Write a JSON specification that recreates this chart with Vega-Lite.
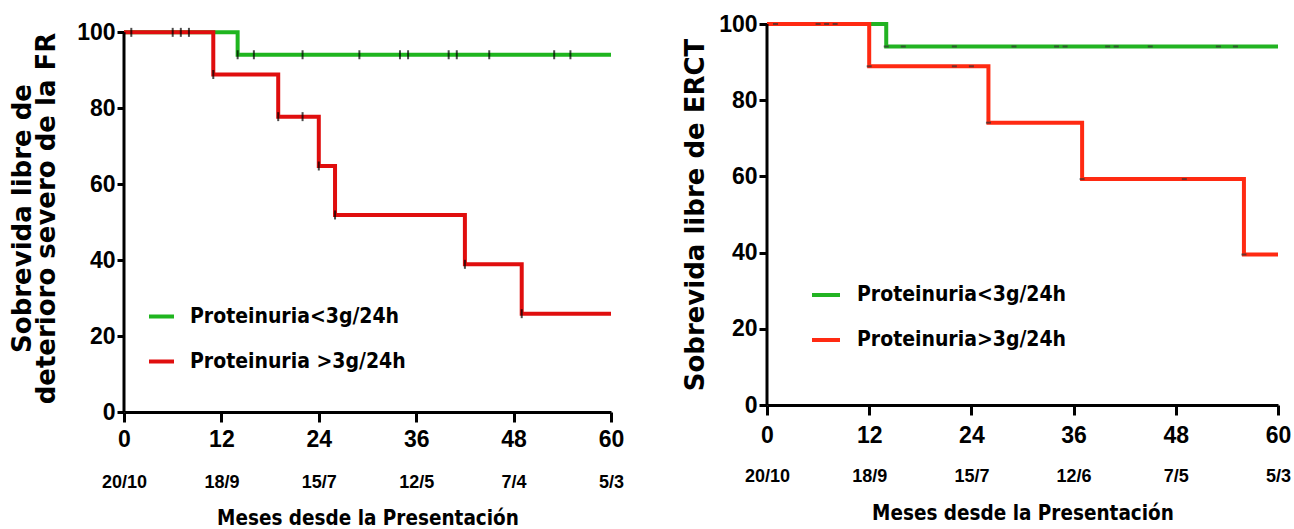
{
  "$schema": "https://vega.github.io/schema/vega-lite/v6.json",
  "padding": {"left": 9, "top": 13, "right": 0, "bottom": 0},
  "background": "white",
  "config": {
    "view": {"stroke": null},
    "axis": {"grid": false, "domainColor": "black", "tickColor": "black", "labelColor": "black", "titleColor": "black"}
  },
  "datasets": {
    "leftCurve": [
      {"group": "Proteinuria<3g/24h", "t": 0, "s": 100},
      {"group": "Proteinuria<3g/24h", "t": 14, "s": 94.1},
      {"group": "Proteinuria<3g/24h", "t": 60, "s": 94.1},
      {"group": "Proteinuria >3g/24h", "t": 0, "s": 100},
      {"group": "Proteinuria >3g/24h", "t": 11, "s": 88.9},
      {"group": "Proteinuria >3g/24h", "t": 19, "s": 77.8},
      {"group": "Proteinuria >3g/24h", "t": 24, "s": 64.8},
      {"group": "Proteinuria >3g/24h", "t": 26, "s": 51.9},
      {"group": "Proteinuria >3g/24h", "t": 42, "s": 38.9},
      {"group": "Proteinuria >3g/24h", "t": 49, "s": 25.9},
      {"group": "Proteinuria >3g/24h", "t": 60, "s": 25.9}
    ],
    "leftCens": [
      {"t": 0.9, "s": 100}, {"t": 6, "s": 100}, {"t": 7, "s": 100}, {"t": 8, "s": 100},
      {"t": 14, "s": 94.1}, {"t": 16, "s": 94.1}, {"t": 22, "s": 94.1}, {"t": 29, "s": 94.1},
      {"t": 34, "s": 94.1}, {"t": 35, "s": 94.1}, {"t": 40, "s": 94.1}, {"t": 41, "s": 94.1},
      {"t": 45, "s": 94.1}, {"t": 53, "s": 94.1}, {"t": 55, "s": 94.1},
      {"t": 11, "s": 88.9}, {"t": 19, "s": 77.8}, {"t": 22, "s": 77.8}, {"t": 24, "s": 64.8},
      {"t": 26, "s": 51.9}, {"t": 42, "s": 38.9}, {"t": 49, "s": 25.9}
    ],
    "rightCurve": [
      {"group": "Proteinuria<3g/24h", "t": 0, "s": 100},
      {"group": "Proteinuria<3g/24h", "t": 14, "s": 94.1},
      {"group": "Proteinuria<3g/24h", "t": 60, "s": 94.1},
      {"group": "Proteinuria>3g/24h", "t": 0, "s": 100},
      {"group": "Proteinuria>3g/24h", "t": 12, "s": 88.9},
      {"group": "Proteinuria>3g/24h", "t": 26, "s": 74.1},
      {"group": "Proteinuria>3g/24h", "t": 37, "s": 59.3},
      {"group": "Proteinuria>3g/24h", "t": 56, "s": 39.5},
      {"group": "Proteinuria>3g/24h", "t": 60, "s": 39.5}
    ],
    "rightCens": [
      {"t": 1, "s": 100}, {"t": 6, "s": 100}, {"t": 7, "s": 100}, {"t": 8, "s": 100},
      {"t": 14, "s": 94.1}, {"t": 16, "s": 94.1}, {"t": 22, "s": 94.1}, {"t": 29, "s": 94.1},
      {"t": 34, "s": 94.1}, {"t": 35, "s": 94.1}, {"t": 40, "s": 94.1}, {"t": 41, "s": 94.1},
      {"t": 45, "s": 94.1}, {"t": 53, "s": 94.1}, {"t": 55, "s": 94.1},
      {"t": 12, "s": 88.9}, {"t": 22, "s": 88.9}, {"t": 24, "s": 88.9}, {"t": 26, "s": 74.1},
      {"t": 37, "s": 59.3}, {"t": 49, "s": 59.3}, {"t": 56, "s": 39.5}
    ]
  },
  "spacing": 58,
  "resolve": {"scale": {"color": "independent", "x": "independent", "y": "independent"}, "legend": {"color": "independent"}},
  "hconcat": [
    {
      "width": 487,
      "height": 388,
      "resolve": {"scale": {"x": "independent"}, "axis": {"x": "independent"}},
      "layer": [
        {
          "layer": [
            {
              "data": {"name": "leftCurve"},
              "transform": [{"filter": "datum.group == 'Proteinuria<3g/24h'"}],
              "mark": {"type": "line", "interpolate": "step-after", "strokeWidth": 4},
              "encoding": {
                "x": {"field": "t", "type": "quantitative", "scale": {"domain": [0, 60], "nice": false},
                  "axis": {"orient": "bottom", "values": [0, 12, 24, 36, 48, 60], "title": null, "tickSize": 10, "tickWidth": 3, "domainWidth": 3, "labelFont": "Liberation Sans", "labelFontWeight": "bold", "labelFontSize": 23, "labelPadding": 6, "labelFlush": false}},
                "y": {"field": "s", "type": "quantitative", "scale": {"domain": [0, 102.2], "nice": false},
                  "axis": {"values": [0, 20, 40, 60, 80, 100], "domain": false, "tickSize": 7, "tickWidth": 3, "labelFont": "Liberation Sans", "labelFontWeight": "bold", "labelFontSize": 23, "labelPadding": 2,
                    "title": ["Sobrevida libre de", "deterioro severo de la FR"], "titleFont": "DejaVu Sans", "titleFontWeight": "bold", "titleFontSize": 26, "titleLineHeight": 24, "titlePadding": 17}},
                "color": {"field": "group", "type": "nominal",
                  "scale": {"domain": ["Proteinuria<3g/24h", "Proteinuria >3g/24h"], "range": ["#1fb51f", "#e00e0e"]},
                  "legend": {"orient": "none", "legendX": 23, "legendY": 278, "title": null, "padding": 0, "symbolType": "stroke", "symbolSize": 625, "symbolStrokeWidth": 4, "labelFont": "DejaVu Sans Condensed", "labelFontWeight": "bold", "labelFontSize": 21, "labelColor": "black", "labelOffset": 14, "rowPadding": 20, "labelLimit": 400}}
              }
            },
            {
              "data": {"name": "leftCurve"},
              "transform": [{"filter": "datum.group == 'Proteinuria >3g/24h'"}],
              "mark": {"type": "line", "interpolate": "step-after", "strokeWidth": 4},
              "encoding": {
                "x": {"field": "t", "type": "quantitative"},
                "y": {"field": "s", "type": "quantitative"},
                "color": {"field": "group", "type": "nominal"}
              }
            },
            {
              "data": {"name": "leftCens"},
              "mark": {"type": "tick", "orient": "vertical", "size": 9, "thickness": 2, "color": "black"},
              "encoding": {
                "x": {"field": "t", "type": "quantitative"},
                "y": {"field": "s", "type": "quantitative"}
              }
            }
          ]
        },
        {
          "data": {"values": [{}]},
          "mark": {"type": "rule", "strokeWidth": 3, "color": "black"},
          "encoding": {
            "x": {"datum": 0, "type": "quantitative", "scale": {"domain": [0, 60], "nice": false},
              "axis": {"orient": "bottom", "values": [0, 12, 24, 36, 48, 60], "domain": false, "ticks": false, "labelPadding": 61, "labelFont": "Liberation Sans", "labelFontWeight": "bold", "labelFontSize": 18, "labelFlush": false,
                "labelExpr": "datum.value == 0 ? '20/10' : datum.value == 12 ? '18/9' : datum.value == 24 ? '15/7' : datum.value == 36 ? '12/5' : datum.value == 48 ? '7/4' : '5/3'",
                "title": "Meses desde la Presentación", "titleFont": "DejaVu Sans Condensed", "titleFontWeight": "bold", "titleFontSize": 20.5, "titlePadding": 17}},
            "y": {"datum": 0, "type": "quantitative",
              "axis": {"values": [0, 20, 40, 60, 80, 100], "domain": false, "tickSize": 7, "tickWidth": 3, "labelFont": "Liberation Sans", "labelFontWeight": "bold", "labelFontSize": 23, "labelPadding": 2,
                "title": ["Sobrevida libre de", "deterioro severo de la FR"], "titleFont": "DejaVu Sans", "titleFontWeight": "bold", "titleFontSize": 26, "titleLineHeight": 24, "titlePadding": 17}},
            "y2": {"datum": 100}
          }
        }
      ]
    },
    {
      "width": 511,
      "height": 381,
      "resolve": {"scale": {"x": "independent"}, "axis": {"x": "independent"}},
      "layer": [
        {
          "layer": [
            {
              "data": {"name": "rightCurve"},
              "transform": [{"filter": "datum.group == 'Proteinuria<3g/24h'"}],
              "mark": {"type": "line", "interpolate": "step-after", "strokeWidth": 4},
              "encoding": {
                "x": {"field": "t", "type": "quantitative", "scale": {"domain": [0, 60], "nice": false},
                  "axis": {"orient": "bottom", "values": [0, 12, 24, 36, 48, 60], "title": null, "tickSize": 10, "tickWidth": 3, "domainWidth": 3, "labelFont": "Liberation Sans", "labelFontWeight": "bold", "labelFontSize": 23, "labelPadding": 9, "labelFlush": false}},
                "y": {"field": "s", "type": "quantitative", "scale": {"domain": [0, 100], "nice": false},
                  "axis": {"values": [0, 20, 40, 60, 80, 100], "domain": false, "tickSize": 8, "tickWidth": 3, "labelFont": "Liberation Sans", "labelFontWeight": "bold", "labelFontSize": 23, "labelPadding": 2,
                    "title": "Sobrevida libre de ERCT", "titleFont": "DejaVu Sans", "titleFontWeight": "bold", "titleFontSize": 26, "titlePadding": 10}},
                "color": {"field": "group", "type": "nominal",
                  "scale": {"domain": ["Proteinuria<3g/24h", "Proteinuria>3g/24h"], "range": ["#22b322", "#ff2a12"]},
                  "legend": {"orient": "none", "legendX": 43, "legendY": 255, "title": null, "padding": 0, "symbolType": "stroke", "symbolSize": 784, "symbolStrokeWidth": 4, "labelFont": "DejaVu Sans Condensed", "labelFontWeight": "bold", "labelFontSize": 21, "labelColor": "black", "labelOffset": 15, "rowPadding": 19, "labelLimit": 400}}
              }
            },
            {
              "data": {"name": "rightCurve"},
              "transform": [{"filter": "datum.group == 'Proteinuria>3g/24h'"}],
              "mark": {"type": "line", "interpolate": "step-after", "strokeWidth": 4},
              "encoding": {
                "x": {"field": "t", "type": "quantitative"},
                "y": {"field": "s", "type": "quantitative"},
                "color": {"field": "group", "type": "nominal"}
              }
            },
            {
              "data": {"name": "rightCens"},
              "mark": {"type": "tick", "orient": "horizontal", "size": 5, "thickness": 2, "color": "#333333"},
              "encoding": {
                "x": {"field": "t", "type": "quantitative"},
                "y": {"field": "s", "type": "quantitative"}
              }
            }
          ]
        },
        {
          "data": {"values": [{}]},
          "mark": {"type": "rule", "strokeWidth": 3, "color": "black"},
          "encoding": {
            "x": {"datum": 0, "type": "quantitative", "scale": {"domain": [0, 60], "nice": false},
              "axis": {"orient": "bottom", "values": [0, 12, 24, 36, 48, 60], "domain": false, "ticks": false, "labelPadding": 62, "labelFont": "Liberation Sans", "labelFontWeight": "bold", "labelFontSize": 18, "labelFlush": false,
                "labelExpr": "datum.value == 0 ? '20/10' : datum.value == 12 ? '18/9' : datum.value == 24 ? '15/7' : datum.value == 36 ? '12/6' : datum.value == 48 ? '7/5' : '5/3'",
                "title": "Meses desde la Presentación", "titleFont": "DejaVu Sans Condensed", "titleFontWeight": "bold", "titleFontSize": 20.5, "titlePadding": 18}},
            "y": {"datum": 0, "type": "quantitative",
              "axis": {"values": [0, 20, 40, 60, 80, 100], "domain": false, "tickSize": 8, "tickWidth": 3, "labelFont": "Liberation Sans", "labelFontWeight": "bold", "labelFontSize": 23, "labelPadding": 2,
                "title": "Sobrevida libre de ERCT", "titleFont": "DejaVu Sans", "titleFontWeight": "bold", "titleFontSize": 26, "titlePadding": 10}},
            "y2": {"datum": 100}
          }
        }
      ]
    }
  ]
}
